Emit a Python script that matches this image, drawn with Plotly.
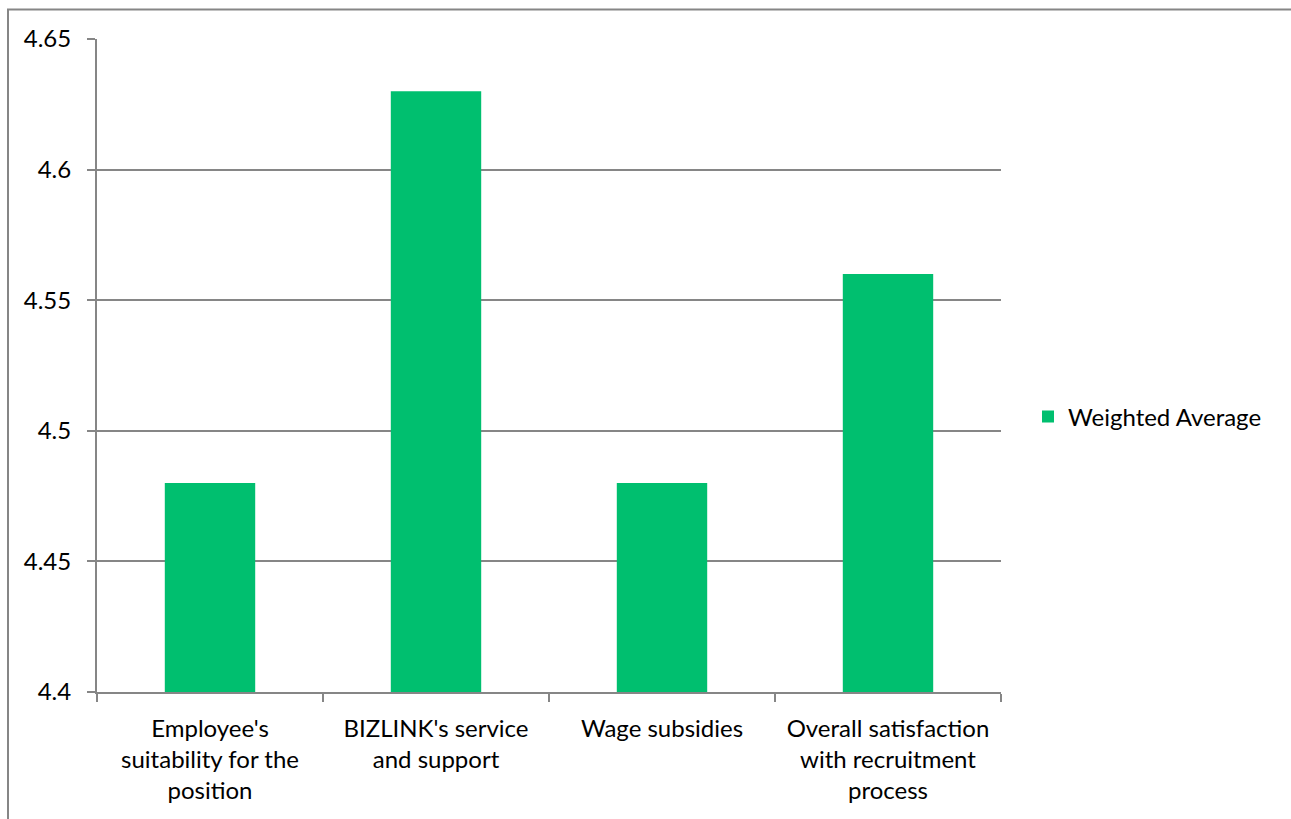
import plotly.graph_objects as go

categories = [
    "Employee's<br>suitability for the<br>position",
    "BIZLINK's service<br>and support",
    "Wage subsidies",
    "Overall satisfaction<br>with recruitment<br>process",
]
weighted_average = [4.48, 4.63, 4.48, 4.56]
y_ticks = [4.4, 4.45, 4.5, 4.55, 4.6, 4.65]
y_tick_labels = ["4.4", "4.45", "4.5", "4.55", "4.6", "4.65"]

W, H = 1291, 819
L, R, T, B = 97, 290, 39, 127
plot_w = W - L - R
plot_h = H - T - B

GRID = "#868686"
BAR = "#00BF6F"
FONT = "Lato, Calibri, Carlito, sans-serif"
FS = 24

fig = go.Figure()
fig.add_trace(go.Bar(
    x=categories,
    y=weighted_average,
    name="Weighted Average",
    marker=dict(color=BAR, line=dict(width=0)),
    width=0.4,
    showlegend=True,
))

# Outer chart border (left and top edges visible)
fig.add_shape(
    type="rect", xref="paper", yref="paper",
    x0=(8 - L) / plot_w, x1=(W + 20 - L) / plot_w,
    y0=-(B + 20) / plot_h, y1=(H - B - 9.5) / plot_h,
    line=dict(color=GRID, width=2), fillcolor="rgba(0,0,0,0)",
    layer="below",
)

fig.update_layout(
    width=W, height=H,
    margin=dict(l=L, r=R, t=T, b=B, pad=0),
    paper_bgcolor="white", plot_bgcolor="white",
    font=dict(family=FONT, size=FS, color="#000000"),
    bargap=0.6,
    showlegend=True,
    legend=dict(
        x=(1028 - L) / plot_w, y=(H - B - 417) / plot_h,
        xanchor="left", yanchor="middle",
        font=dict(family=FONT, size=FS, color="#000000"),
        itemwidth=30, bgcolor="rgba(0,0,0,0)",
    ),
    xaxis=dict(
        type="category",
        showline=True, linecolor=GRID, linewidth=2,
        ticks="outside", ticklen=8, tickwidth=2, tickcolor=GRID,
        tickson="boundaries",
        showgrid=False,
        tickfont=dict(family=FONT, size=FS),
        ticklabelstandoff=14,
        fixedrange=True,
    ),
    yaxis=dict(
        range=[4.4, 4.65],
        tickvals=y_ticks, ticktext=y_tick_labels,
        showline=True, linecolor=GRID, linewidth=2,
        ticks="outside", ticklen=8, tickwidth=2, tickcolor=GRID,
        showgrid=True, gridcolor=GRID, gridwidth=1.5,
        zeroline=False,
        tickfont=dict(family=FONT, size=FS),
        ticklabelstandoff=11,
        fixedrange=True,
    ),
)

fig.write_html("out.html")
